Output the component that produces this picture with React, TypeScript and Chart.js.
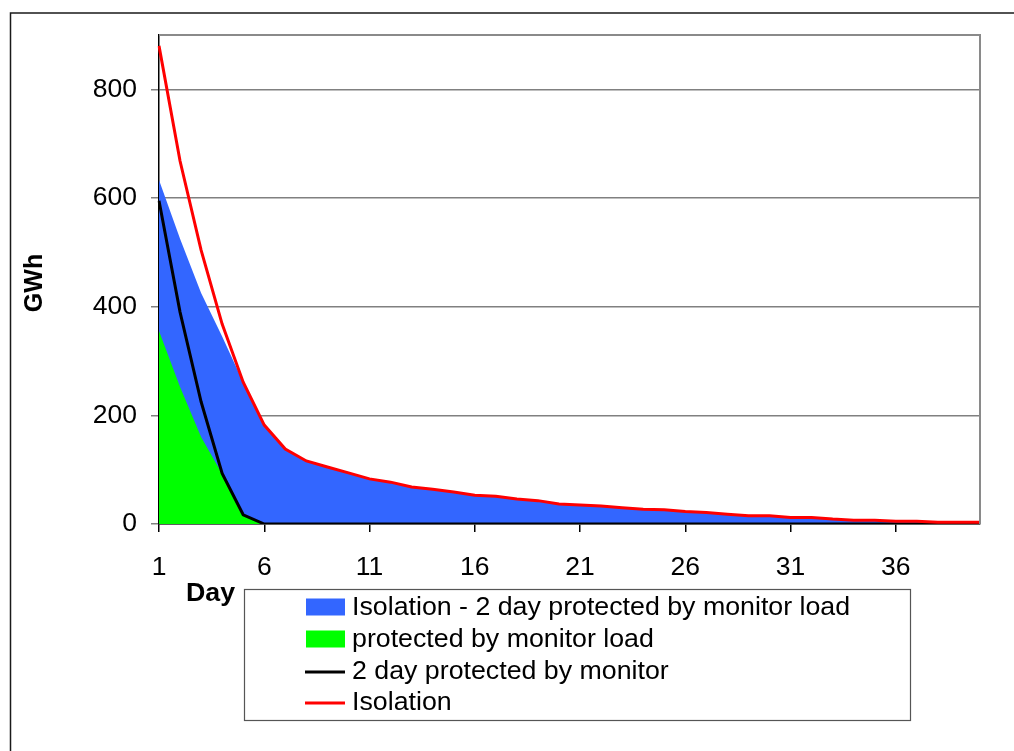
import React, { useEffect, useRef } from "react";
import { Chart, registerables } from "chart.js";

Chart.register(...registerables);

const dayLabels = [
  "1", "2", "3", "4", "5", "6", "7", "8", "9", "10",
  "11", "12", "13", "14", "15", "16", "17", "18", "19", "20",
  "21", "22", "23", "24", "25", "26", "27", "28", "29", "30",
  "31", "32", "33", "34", "35", "36", "37", "38", "39", "40",
];

const protectedByMonitorLoad = [
  355, 252, 160, 92, 17, 0, 0, 0, 0, 0,
  0, 0, 0, 0, 0, 0, 0, 0, 0, 0,
  0, 0, 0, 0, 0, 0, 0, 0, 0, 0,
  0, 0, 0, 0, 0, 0, 0, 0, 0, 0,
];

const isolationMinusTwoDayLoad = [
  278, 273, 265, 253, 244, 182, 138, 116, 105, 94,
  83, 77, 68, 64, 59, 53, 51, 46, 43, 37,
  35, 33, 30, 27, 26, 23, 21, 18, 15, 15,
  12, 12, 9, 7, 7, 5, 5, 3, 3, 3,
];

const twoDayProtectedByMonitor = [
  595, 390, 225, 93, 17, 0, 0, 0, 0, 0,
  0, 0, 0, 0, 0, 0, 0, 0, 0, 0,
  0, 0, 0, 0, 0, 0, 0, 0, 0, 0,
  0, 0, 0, 0, 0, 0, 0, 0, 0, 0,
];

const isolation = [
  880, 668, 504, 368, 261, 182, 138, 116, 105, 94,
  83, 77, 68, 64, 59, 53, 51, 46, 43, 37,
  35, 33, 30, 27, 26, 23, 21, 18, 15, 15,
  12, 12, 9, 7, 7, 5, 5, 3, 3, 3,
];

const yTickValues = [0, 200, 400, 600, 800];

const legendItems = [
  { label: "Isolation - 2 day protected by monitor load", color: "#3366FF", kind: "box" },
  { label: "protected by monitor load", color: "#00FF00", kind: "box" },
  { label: "2 day protected by monitor", color: "#000000", kind: "line" },
  { label: "Isolation", color: "#FF0000", kind: "line" },
];

const FONT = "'Liberation Sans', Arial, sans-serif";
const STRETCH = 1.07;

function wideText(ctx: any, text: string, x: number, y: number) {
  ctx.save();
  ctx.translate(x, y);
  ctx.scale(STRETCH, 1);
  ctx.fillText(text, 0, 0);
  ctx.restore();
}

const decorPlugin = {
  id: "decor",
  beforeDraw(chart: any) {
    const ctx = chart.ctx;
    ctx.save();
    ctx.fillStyle = "#ffffff";
    ctx.fillRect(0, 0, chart.width, chart.height);
    ctx.strokeStyle = "#1a1a1a";
    ctx.lineWidth = 1.5;
    ctx.beginPath();
    ctx.moveTo(10.5, chart.height);
    ctx.lineTo(10.5, 13);
    ctx.lineTo(chart.width, 13);
    ctx.stroke();
    ctx.restore();
  },
  afterDatasetsDraw(chart: any) {
    const ctx = chart.ctx;
    const a = chart.chartArea;
    ctx.save();
    ctx.strokeStyle = "#8a8a8a";
    ctx.lineWidth = 2;
    ctx.beginPath();
    ctx.moveTo(a.left, a.top);
    ctx.lineTo(a.right, a.top);
    ctx.lineTo(a.right, a.bottom);
    ctx.stroke();
    ctx.restore();
  },
  afterDraw(chart: any) {
    const ctx = chart.ctx;
    ctx.save();
    // axis titles
    ctx.fillStyle = "#000";
    ctx.font = `bold 25px ${FONT}`;
    ctx.textAlign = "left";
    ctx.textBaseline = "alphabetic";
    wideText(ctx, "Day", 186, 601);
    ctx.save();
    ctx.translate(42, 283);
    ctx.rotate(-Math.PI / 2);
    ctx.textAlign = "center";
    ctx.textBaseline = "alphabetic";
    ctx.fillText("GWh", 0, 0);
    ctx.restore();

    // legend
    ctx.strokeStyle = "#555555";
    ctx.lineWidth = 1.2;
    ctx.strokeRect(244.5, 589.5, 666, 131);
    const rows = [607, 639, 671, 702];
    ctx.font = `25px ${FONT}`;
    ctx.textBaseline = "middle";
    ctx.textAlign = "left";
    legendItems.forEach((item, i) => {
      const cy = rows[i];
      if (item.kind === "box") {
        ctx.fillStyle = item.color;
        ctx.fillRect(306, cy - 8.5, 39, 17);
      } else {
        ctx.strokeStyle = item.color;
        ctx.lineWidth = 3;
        ctx.beginPath();
        ctx.moveTo(305, cy + 1);
        ctx.lineTo(345, cy + 1);
        ctx.stroke();
      }
      ctx.fillStyle = "#000";
      wideText(ctx, item.label, 352, cy + 1);
    });
    ctx.restore();
  },
};

export default function App() {
  const ref = useRef<HTMLCanvasElement | null>(null);

  useEffect(() => {
    if (!ref.current) return;
    Chart.defaults.font.family = FONT;
    Chart.defaults.color = "#000";
    const chart = new Chart(ref.current, {
      type: "line",
      data: {
        labels: dayLabels,
        datasets: [
          {
            label: "protected by monitor load",
            data: protectedByMonitorLoad,
            stack: "area",
            order: 0,
            backgroundColor: "#00FF00",
            borderWidth: 0,
            borderColor: "rgba(0,0,0,0)",
            fill: "origin",
            pointRadius: 0,
            tension: 0,
          },
          {
            label: "Isolation - 2 day protected by monitor load",
            data: isolationMinusTwoDayLoad,
            stack: "area",
            order: 1,
            backgroundColor: "#3366FF",
            borderWidth: 0,
            borderColor: "rgba(0,0,0,0)",
            fill: "origin",
            pointRadius: 0,
            tension: 0,
          },
          {
            label: "2 day protected by monitor",
            data: twoDayProtectedByMonitor,
            stack: "black",
            order: -1,
            borderColor: "#000000",
            borderWidth: 3,
            fill: false,
            pointRadius: 0,
            tension: 0,
          },
          {
            label: "Isolation",
            data: isolation,
            stack: "red",
            order: -2,
            borderColor: "#FF0000",
            borderWidth: 3,
            fill: false,
            pointRadius: 0,
            tension: 0,
          },
        ],
      },
      options: {
        animation: false,
        responsive: false,
        layout: { padding: { left: 0, top: 35, right: 34, bottom: 0 } },
        plugins: {
          legend: { display: false },
          tooltip: { enabled: false },
          title: { display: false },
        },
        scales: {
          x: {
            type: "category",
            offset: false,
            afterFit: (s: any) => {
              s.height = 751 - 524;
            },
            grid: {
              drawOnChartArea: false,
              drawTicks: true,
              tickLength: 8,
              lineWidth: 1.5,
              color: (c: any) => (c.index % 5 === 0 ? "#000" : "rgba(0,0,0,0)"),
            },
            border: { display: true, color: "#000", width: 1.5 },
            ticks: {
              autoSkip: false,
              maxRotation: 0,
              padding: 20,
              font: { size: 26.5, family: FONT },
              color: "#000",
              callback: (_v: any, i: number) => (i % 5 === 0 ? dayLabels[i] : ""),
            },
          },
          y: {
            type: "linear",
            stacked: true,
            min: 0,
            max: 900,
            afterFit: (s: any) => {
              s.width = 159;
            },
            afterBuildTicks: (s: any) => {
              s.ticks = yTickValues.map((v) => ({ value: v }));
            },
            grid: {
              color: "#808080",
              lineWidth: 1.5,
              drawTicks: true,
              tickLength: 8,
            },
            border: { display: true, color: "#000", width: 1.5 },
            ticks: {
              padding: 14,
              font: { size: 26.5, family: FONT },
              color: "#000",
            },
          },
        },
      },
      plugins: [decorPlugin],
    } as any);
    return () => chart.destroy();
  }, []);

  return (
    <div style={{ position: "absolute", left: 0, top: 0, width: 1014, height: 751 }}>
      <canvas ref={ref} width={1014} height={751} style={{ width: 1014, height: 751, display: "block" }} />
    </div>
  );
}
